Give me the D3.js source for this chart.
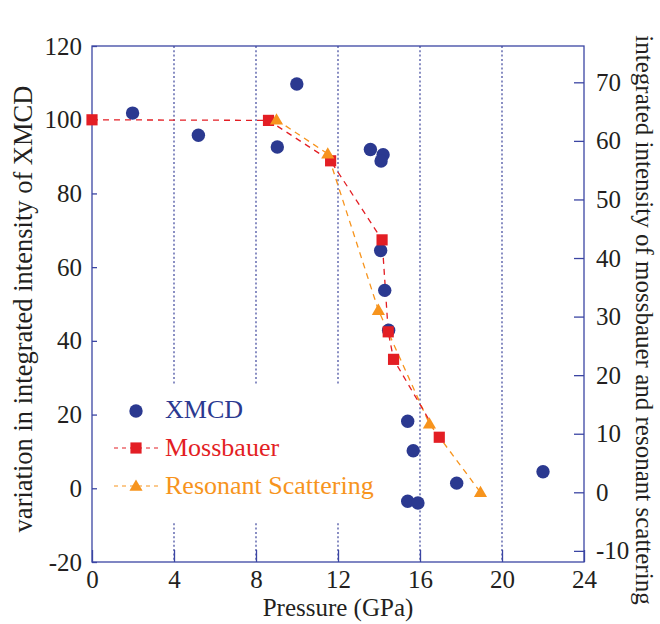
<!DOCTYPE html>
<html>
<head>
<meta charset="utf-8">
<script src="https://cdn.jsdelivr.net/npm/d3@7"></script>
<style>
  body { margin: 0; background: #fff; }
  text { font-family: "Liberation Serif", "DejaVu Serif", serif; }
</style>
</head>
<body>
<svg width="660" height="624"></svg>
<script>
// pressure ticks and y ticks
const pressureTicks = [0, 4, 8, 12, 16, 20, 24];
const leftTicks = [-20, 0, 20, 40, 60, 80, 100, 120];
const rightTicks = [-10, 0, 10, 20, 30, 40, 50, 60, 70];
const gridAt = [4, 8, 12, 16, 20];

// XMCD (left axis)
const xmcdP = [1.98, 5.19, 9.04, 9.99, 13.58, 14.2, 14.1, 14.08, 14.28, 14.47, 15.4, 15.67, 15.4, 15.9, 17.79, 22.0];
const xmcdV = [101.8, 95.8, 92.6, 109.7, 91.9, 90.5, 88.8, 64.5, 53.7, 42.9, 18.2, 10.2, -3.5, -4.0, 1.4, 4.5];

// Mossbauer (right axis)
const mossP = [0, 8.61, 11.64, 14.15, 14.45, 14.71, 16.94];
const mossV = [63.6, 63.5, 56.6, 43.1, 27.4, 22.7, 9.4];

// Resonant scattering (right axis)
const resP = [9.0, 11.5, 13.97, 16.46, 18.95];
const resV = [63.6, 57.8, 31.1, 11.7, 0.0];

const blue = "#2b3990", red = "#e31e24", orange = "#f7941d", axisCol = "#3b45a3";

const svg = d3.select("svg");
const margin = { left: 92, right: 76, top: 46, bottom: 62 };
const W = 660, H = 624;

const x = d3.scaleLinear().domain([0, 24]).range([margin.left, W - margin.right]);
const y = d3.scaleLinear().domain([-20, 120]).range([H - margin.bottom, margin.top]);
const yR = d3.scaleLinear().domain([-11.9, 76.2]).range([H - margin.bottom, margin.top]);

// dotted vertical grid
svg.append("g").selectAll("line")
  .data(gridAt).enter().append("line")
  .attr("x1", d => x(d)).attr("x2", d => x(d))
  .attr("y1", y(120)).attr("y2", y(-20))
  .attr("stroke", "#5960aa").attr("stroke-width", 1.4)
  .attr("stroke-dasharray", "2,2.3");

// legend background hides the grid behind it
svg.append("rect").attr("x", 100).attr("y", 385).attr("width", 280).attr("height", 137).attr("fill", "#fff");

// frame
svg.append("rect")
  .attr("x", x(0)).attr("y", y(120))
  .attr("width", x(24) - x(0)).attr("height", y(-20) - y(120))
  .attr("fill", "none").attr("stroke", axisCol).attr("stroke-width", 1.3);

function styleAxis(g) {
  g.select(".domain").remove();
  g.selectAll(".tick line").attr("stroke", axisCol).attr("stroke-width", 1.3);
  g.selectAll(".tick text").attr("fill", "#231f20").style("font-size", "25px")
    .style("font-family", '"Liberation Serif", serif');
}
const plain = d => String(d); // hyphen minus like the original

svg.append("g").attr("transform", `translate(0,${y(-20)})`)
  .call(d3.axisBottom(x).tickValues(pressureTicks).tickFormat(plain).tickSizeInner(-12).tickSizeOuter(0).tickPadding(8))
  .call(styleAxis);

svg.append("g").attr("transform", `translate(${x(0)},0)`)
  .call(d3.axisLeft(y).tickValues(leftTicks).tickFormat(plain).tickSizeInner(-5).tickSizeOuter(0).tickPadding(10))
  .call(styleAxis);

svg.append("g").attr("transform", `translate(${x(24)},0)`)
  .call(d3.axisRight(yR).tickValues(rightTicks).tickFormat(plain).tickSizeInner(-10).tickSizeOuter(0).tickPadding(12))
  .call(styleAxis);

// axis titles
svg.append("text").attr("x", x(12)).attr("y", 616).attr("text-anchor", "middle")
  .attr("fill", "#231f20").style("font-size", "25px").text("Pressure (GPa)");
svg.append("text").attr("transform", "translate(32,309) rotate(-90)")
  .attr("text-anchor", "middle").attr("fill", "#231f20").style("font-size", "26.5px")
  .text("variation in integrated intensity of XMCD");
svg.append("text").attr("transform", "translate(636,320) rotate(90)")
  .attr("text-anchor", "middle").attr("fill", "#231f20").style("font-size", "25px")
  .text("integrated intensity of mossbauer and resonant scattering");

// lines
const mossData = mossP.map((p, i) => [p, mossV[i]]);
const resData = resP.map((p, i) => [p, resV[i]]);
const lineR = d3.line().x(d => x(d[0])).y(d => yR(d[1]));

svg.append("path").datum(resData).attr("d", lineR).attr("fill", "none")
  .attr("stroke", orange).attr("stroke-width", 1.3).attr("stroke-dasharray", "6,5");
svg.append("path").datum(mossData).attr("d", lineR).attr("fill", "none")
  .attr("stroke", red).attr("stroke-width", 1.3).attr("stroke-dasharray", "6,5");

// markers
const sq = d3.symbol().type(d3.symbolSquare).size(125);
const tri = d3.symbol().type(d3.symbolTriangle).size(75);

svg.append("g").selectAll("circle")
  .data(xmcdP.map((p, i) => [p, xmcdV[i]])).enter().append("circle")
  .attr("cx", d => x(d[0])).attr("cy", d => y(d[1])).attr("r", 6.7).attr("fill", blue);

svg.append("g").selectAll("path")
  .data(mossData).enter().append("path")
  .attr("d", sq).attr("transform", d => `translate(${x(d[0])},${yR(d[1])})`).attr("fill", red);

svg.append("g").selectAll("path")
  .data(resData).enter().append("path")
  .attr("d", tri).attr("transform", d => `translate(${x(d[0])},${yR(d[1]) + 1})`).attr("fill", orange);

// legend
const lg = svg.append("g");
lg.append("circle").attr("cx", 136).attr("cy", 411).attr("r", 6.7).attr("fill", blue);
lg.append("text").attr("x", 165).attr("y", 418).attr("fill", blue).style("font-size", "26px").text("XMCD");

lg.append("line").attr("x1", 114).attr("x2", 160).attr("y1", 448).attr("y2", 448)
  .attr("stroke", red).attr("stroke-width", 1.2).attr("stroke-dasharray", "4,4");
lg.append("path").attr("d", sq).attr("transform", "translate(136,448)").attr("fill", red);
lg.append("text").attr("x", 165).attr("y", 456).attr("fill", red).style("font-size", "26px").text("Mossbauer");

lg.append("line").attr("x1", 114).attr("x2", 160).attr("y1", 486).attr("y2", 486)
  .attr("stroke", orange).attr("stroke-width", 1.2).attr("stroke-dasharray", "4,4");
lg.append("path").attr("d", tri).attr("transform", "translate(136,487)").attr("fill", orange);
lg.append("text").attr("x", 165).attr("y", 494).attr("fill", orange).style("font-size", "26px").text("Resonant Scattering");
</script>
</body>
</html>
